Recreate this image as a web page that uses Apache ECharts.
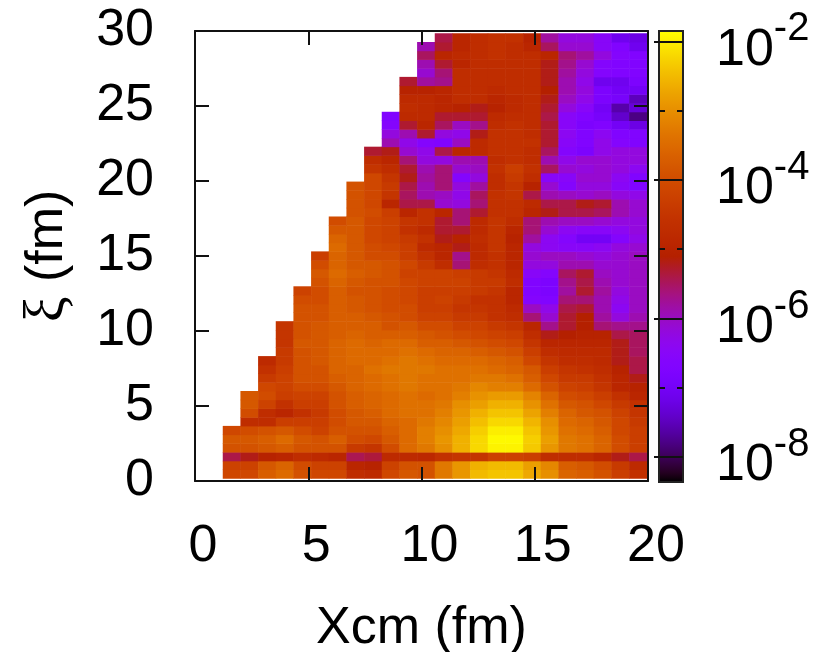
<!DOCTYPE html>
<html><head><meta charset="utf-8">
<style>html,body{margin:0;padding:0;background:#fff}#c{width:825px;height:652px}</style>
<script src="https://cdn.jsdelivr.net/npm/echarts@6/dist/echarts.min.js"></script>
</head><body><div id="c"></div>
<script>
const _ = null;
const xTicks = [0, 5, 10, 15, 20];
const yTicks = [0, 5, 10, 15, 20, 25, 30];
const barMajor = [-2, -4, -6, -8];
const barMinor = [-3, -5, -7];
const logMin = -8.36, logMax = -1.85;
// log10 of the density, one row per xi bin from bottom to top, 24 Xcm bins
const row00=[-4.1,-4.1,-3.7,-3.5,-3.9,-4.1,-4.1,-4.7,-4.8,-4.1,-3.8,-3.9,-3.3,-2.9,-2.5,-2.4,-2.4,-2.7,-3.0,-3.6,-3.7,-3.9,-4.3,-4.6];
const row01=[-4.2,-4.2,-3.8,-3.6,-4.0,-4.2,-4.2,-4.9,-5.0,-4.2,-3.9,-3.9,-3.3,-2.9,-2.6,-2.5,-2.5,-2.8,-3.1,-3.7,-3.8,-4.0,-4.4,-4.8];
const row02=[-5.4,-5.2,-5.0,-4.9,-4.7,-4.8,-4.9,-5.45,-5.35,-4.8,-4.8,-4.85,-4.6,-4.5,-4.5,-4.2,-4.2,-4.3,-4.7,-4.7,-4.7,-4.9,-5.2,-5.4];
const row03=[-3.9,-3.9,-3.8,-3.7,-3.9,-3.9,-3.9,-4.4,-4.5,-4.0,-3.5,-3.3,-3.0,-2.6,-2.2,-1.95,-1.95,-2.35,-2.9,-3.3,-3.4,-3.6,-4.0,-4.3];
const row04=[-3.8,-3.8,-3.7,-3.5,-3.8,-3.9,-3.7,-4.0,-4.1,-3.8,-3.5,-3.2,-2.9,-2.6,-2.2,-1.9,-1.9,-2.3,-2.8,-3.3,-3.4,-3.6,-4.0,-4.3];
const row05=[-4.1,-4.0,-3.9,-3.8,-4.0,-4.2,-3.9,-3.9,-3.9,-3.7,-3.5,-3.2,-3.0,-2.7,-2.3,-2.0,-2.0,-2.4,-2.9,-3.4,-3.5,-3.7,-4.1,-4.3];
const row06=[_,-4.7,-4.7,-4.3,-4.3,-4.3,-4.0,-3.8,-3.8,-3.6,-3.5,-3.3,-3.1,-2.8,-2.45,-2.2,-2.2,-2.55,-3.0,-3.5,-3.6,-3.8,-4.1,-4.4];
const row07=[_,-4.0,-4.7,-4.9,-4.6,-4.4,-4.0,-3.8,-3.7,-3.5,-3.4,-3.4,-3.2,-2.9,-2.6,-2.4,-2.4,-2.75,-3.2,-3.6,-3.8,-3.9,-4.2,-4.5];
const row08=[_,-3.8,-4.2,-4.6,-4.3,-4.3,-3.9,-3.7,-3.6,-3.5,-3.4,-3.4,-3.3,-3.0,-2.8,-2.6,-2.6,-2.95,-3.4,-3.8,-3.9,-4.1,-4.4,-4.6];
const row09=[_,-3.8,-4.0,-4.3,-4.2,-4.2,-3.9,-3.7,-3.6,-3.5,-3.4,-3.5,-3.4,-3.2,-2.95,-2.85,-2.85,-3.15,-3.6,-4.0,-4.1,-4.3,-4.6,-4.9];
const row10=[_,_,-4.1,-4.2,-4.0,-4.0,-3.8,-3.6,-3.5,-3.4,-3.3,-3.4,-3.4,-3.3,-3.1,-3.2,-3.2,-3.5,-3.9,-4.2,-4.3,-4.5,-4.9,-5.0];
const row11=[_,_,-4.4,-4.2,-3.9,-3.9,-3.7,-3.6,-3.5,-3.4,-3.3,-3.4,-3.4,-3.4,-3.3,-3.3,-3.4,-3.7,-4.1,-4.4,-4.4,-4.6,-4.9,-5.2];
const row12=[_,_,-4.6,-4.3,-3.9,-3.9,-3.6,-3.6,-3.4,-3.3,-3.3,-3.3,-3.4,-3.4,-3.4,-3.5,-3.6,-3.8,-4.3,-4.5,-4.6,-4.7,-5.0,-5.4];
const row13=[_,_,-4.8,-4.4,-3.9,-3.8,-3.6,-3.5,-3.5,-3.4,-3.3,-3.4,-3.5,-3.5,-3.5,-3.6,-3.7,-4.1,-4.5,-4.7,-4.7,-4.8,-5.2,-5.4];
const row14=[_,_,_,-4.4,-3.9,-3.8,-3.6,-3.5,-3.5,-3.5,-3.4,-3.5,-3.6,-3.6,-3.7,-3.8,-3.9,-4.3,-4.7,-4.8,-4.8,-4.8,-5.2,-5.5];
const row15=[_,_,_,-4.5,-3.8,-3.8,-3.6,-3.5,-3.6,-3.5,-3.5,-3.7,-3.7,-3.8,-3.9,-4.0,-4.1,-4.5,-4.9,-4.9,-4.9,-4.9,-5.2,-5.5];
const row16=[_,_,_,-4.5,-3.9,-3.8,-3.7,-3.6,-3.7,-3.7,-3.7,-3.8,-3.9,-4.0,-4.1,-4.2,-4.3,-4.7,-5.2,-5.1,-5.0,-5.0,-5.4,-5.5];
const row17=[_,_,_,-4.5,-3.9,-3.8,-3.7,-3.7,-3.7,-3.9,-3.8,-4.0,-4.0,-4.2,-4.2,-4.4,-4.5,-4.9,-5.7,-5.3,-5.1,-5.6,-5.7,-5.7];
const row18=[_,_,_,_,-3.9,-3.9,-3.7,-3.7,-3.8,-3.9,-4.0,-4.2,-4.2,-4.4,-4.4,-4.6,-4.7,-5.6,-6.1,-5.3,-5.1,-5.8,-6.2,-5.9];
const row19=[_,_,_,_,-3.9,-3.9,-3.7,-3.8,-3.9,-4.0,-4.0,-4.3,-4.3,-4.5,-4.5,-4.6,-4.8,-6.0,-6.3,-5.4,-5.3,-5.9,-6.4,-6.0];
const row20=[_,_,_,_,-4.0,-4.0,-3.7,-3.8,-3.9,-4.0,-4.1,-4.3,-4.2,-4.4,-4.6,-4.6,-4.9,-6.6,-6.7,-5.6,-5.6,-5.9,-6.3,-6.0];
const row21=[_,_,_,_,-4.2,-4.0,-3.7,-3.9,-3.9,-4.0,-4.1,-4.3,-4.3,-4.3,-4.4,-4.5,-4.9,-6.7,-6.8,-5.8,-5.3,-5.8,-6.2,-6.0];
const row22=[_,_,_,_,_,-3.9,-3.6,-3.8,-3.9,-3.9,-4.1,-4.2,-4.2,-4.2,-4.4,-4.4,-4.7,-6.7,-6.8,-5.7,-5.4,-5.9,-6.1,-6.0];
const row23=[_,_,_,_,_,-3.8,-3.5,-3.7,-3.8,-3.9,-4.2,-4.2,-4.2,-4.3,-4.4,-4.5,-4.8,-6.5,-6.6,-5.5,-5.3,-6.0,-6.1,-6.0];
const row24=[_,_,_,_,_,-4.0,-3.6,-3.8,-3.8,-3.9,-4.1,-4.4,-4.7,-5.6,-4.7,-4.6,-4.9,-6.2,-6.2,-5.9,-5.9,-6.1,-6.1,-6.0];
const row25=[_,_,_,_,_,-4.3,-3.6,-3.8,-4.0,-4.0,-4.3,-4.6,-4.9,-5.7,-4.8,-4.6,-4.9,-6.1,-6.0,-6.0,-6.1,-6.2,-6.1,-6.0];
const row26=[_,_,_,_,_,_,-3.5,-3.8,-4.0,-4.1,-4.3,-4.8,-4.9,-5.2,-4.8,-4.5,-4.9,-6.2,-6.4,-6.5,-6.5,-6.4,-6.2,-6.1];
const row27=[_,_,_,_,_,_,-3.6,-3.8,-4.1,-4.2,-4.4,-4.6,-5.2,-5.0,-4.7,-4.5,-5.0,-5.8,-6.4,-6.6,-7.0,-7.0,-6.6,-6.3];
const row28=[_,_,_,_,_,_,-3.8,-3.8,-4.1,-4.2,-4.6,-4.8,-5.3,-5.3,-4.8,-4.5,-4.9,-5.6,-6.1,-6.4,-6.5,-6.5,-6.4,-6.2];
const row29=[_,_,_,_,_,_,-4.0,-3.8,-4.1,-4.2,-4.5,-4.6,-5.3,-5.6,-4.8,-4.5,-4.7,-5.6,-5.9,-6.0,-6.0,-6.1,-6.2,-6.2];
const row30=[_,_,_,_,_,_,_,-3.9,-4.0,-4.3,-4.9,-4.6,-4.9,-5.6,-5.3,-4.6,-4.6,-4.9,-5.2,-5.4,-5.4,-5.5,-5.9,-6.1];
const row31=[_,_,_,_,_,_,_,-3.9,-4.1,-4.9,-5.4,-5.4,-6.1,-6.2,-5.6,-4.6,-4.6,-4.8,-5.4,-5.4,-5.2,-5.3,-5.9,-6.1];
const row32=[_,_,_,_,_,_,_,-3.9,-4.1,-4.5,-5.5,-5.9,-6.0,-6.3,-5.5,-4.6,-4.5,-5.4,-5.9,-6.0,-6.1,-6.0,-6.2,-6.3];
const row33=[_,_,_,_,_,_,_,-3.9,-4.1,-4.4,-5.4,-5.9,-5.6,-6.2,-5.8,-4.7,-4.5,-5.0,-6.1,-6.6,-6.2,-6.2,-6.5,-6.7];
const row34=[_,_,_,_,_,_,_,_,-4.1,-4.5,-5.2,-5.8,-5.6,-6.6,-6.2,-4.7,-4.4,-4.7,-6.5,-6.5,-6.1,-6.1,-6.4,-6.7];
const row35=[_,_,_,_,_,_,_,_,-4.5,-4.7,-5.3,-5.9,-5.6,-6.1,-6.0,-4.6,-4.3,-4.6,-5.5,-6.1,-6.2,-6.1,-6.2,-6.4];
const row36=[_,_,_,_,_,_,_,_,-4.7,-4.9,-5.6,-6.2,-6.2,-5.9,-5.9,-4.7,-4.6,-4.7,-5.9,-6.3,-6.1,-6.1,-6.2,-6.2];
const row37=[_,_,_,_,_,_,_,_,-5.3,-5.2,-6.1,-6.3,-5.4,-4.9,-4.8,-4.6,-4.6,-4.7,-5.5,-6.6,-6.8,-6.3,-6.2,-6.2];
const row38=[_,_,_,_,_,_,_,_,_,-5.9,-6.3,-6.6,-6.7,-6.0,-4.8,-4.6,-4.6,-4.6,-5.3,-6.5,-6.7,-6.3,-6.6,-6.7];
const row39=[_,_,_,_,_,_,_,_,_,-6.2,-5.9,-5.3,-6.2,-6.3,-5.2,-4.6,-4.6,-4.7,-5.3,-6.4,-6.7,-6.4,-6.7,-6.7];
const row40=[_,_,_,_,_,_,_,_,_,-6.6,-5.3,-4.9,-5.5,-6.0,-5.7,-4.7,-4.6,-4.7,-5.3,-6.5,-6.8,-6.7,-7.0,-7.2];
const row41=[_,_,_,_,_,_,_,_,_,-6.7,-4.8,-4.8,-5.3,-5.3,-5.3,-4.8,-4.7,-4.7,-5.4,-6.5,-6.7,-6.9,-7.4,-7.8];
const row42=[_,_,_,_,_,_,_,_,_,_,-4.7,-4.8,-4.9,-5.0,-5.2,-5.0,-4.8,-4.7,-5.3,-6.2,-6.5,-7.0,-7.6,-7.3];
const row43=[_,_,_,_,_,_,_,_,_,_,-4.8,-4.8,-4.9,-4.7,-4.7,-4.9,-4.8,-4.7,-5.2,-6.0,-6.3,-6.8,-6.9,-7.5];
const row44=[_,_,_,_,_,_,_,_,_,_,-5.0,-5.0,-4.9,-4.7,-4.7,-4.8,-4.7,-4.7,-5.1,-5.9,-6.2,-6.8,-7.0,-7.0];
const row45=[_,_,_,_,_,_,_,_,_,_,-5.3,-5.8,-5.7,-4.7,-4.7,-4.7,-4.7,-4.7,-5.2,-5.9,-6.3,-7.1,-7.1,-6.8];
const row46=[_,_,_,_,_,_,_,_,_,_,_,-6.1,-5.6,-4.7,-4.7,-4.7,-4.7,-4.7,-5.2,-5.8,-6.2,-6.6,-6.7,-6.7];
const row47=[_,_,_,_,_,_,_,_,_,_,_,-5.9,-5.3,-4.9,-4.7,-4.7,-4.7,-4.7,-5.2,-5.7,-6.1,-6.6,-6.7,-6.7];
const row48=[_,_,_,_,_,_,_,_,_,_,_,-5.5,-4.9,-4.8,-4.7,-4.6,-4.7,-4.7,-4.9,-5.6,-5.8,-6.2,-6.6,-6.7];
const row49=[_,_,_,_,_,_,_,_,_,_,_,-5.9,-5.3,-4.9,-4.7,-4.6,-4.7,-4.9,-5.5,-6.1,-6.1,-6.5,-6.7,-7.1];
const row50=[_,_,_,_,_,_,_,_,_,_,_,_,-5.4,-4.9,-4.7,-4.6,-4.6,-5.0,-5.8,-6.2,-6.2,-6.5,-7.1,-7.2];

const rows=[row00,row01,row02,row03,row04,row05,row06,row07,row08,row09,row10,row11,row12,row13,row14,row15,row16,row17,row18,row19,row20,row21,row22,row23,row24,row25,row26,row27,row28,row29,row30,row31,row32,row33,row34,row35,row36,row37,row38,row39,row40,row41,row42,row43,row44,row45,row46,row47,row48,row49,row50];
const cells=[];
rows.forEach((r,j)=>r.forEach((v,i)=>{ if(v!==null) cells.push([i,j,v]); }));

// gnuplot default pm3d palette (rgbformulae 7,5,15)
const palette=[];
for(let k=0;k<=64;k++){
  const t=k/64, f=c=>Math.round(255*Math.min(1,Math.max(0,c)));
  palette.push(`rgb(${f(Math.sqrt(t))},${f(t*t*t)},${f(Math.sin(2*Math.PI*t))})`);
}

const FONT='Liberation Sans';
const lineS={color:'#111',width:2};
const chart=echarts.init(document.getElementById('c'),null,{renderer:'canvas'});
const valAxisBase={type:'value',z:6,splitLine:{show:false},axisLine:{show:true,onZero:false,lineStyle:lineS},
  axisTick:{show:true,inside:true,length:14,lineStyle:lineS}};
const noLabel={show:false};
chart.setOption({
  animation:false,
  backgroundColor:'#fff',
  textStyle:{fontFamily:FONT},
  grid:[
    {left:195,top:31,width:453,height:450,outerBoundsMode:'none'},
    {left:223,top:33.5,width:424,height:445,outerBoundsMode:'none'},
    {left:659,top:31,width:24,height:451,show:true,z:6,borderColor:'#222',borderWidth:2,backgroundColor:'transparent',outerBoundsMode:'none'}
  ],
  xAxis:[
    Object.assign({},valAxisBase,{gridIndex:0,min:0,max:20,interval:5,position:'bottom',
      axisLabel:{fontFamily:FONT,fontSize:52,color:'#000',margin:40,padding:[0,0,0,16],
        customValues:xTicks,formatter:v=>String(v)},
      name:'Xcm (fm)',nameLocation:'middle',nameGap:122,nameTextStyle:{fontFamily:FONT,fontSize:52,color:'#000'}}),
    Object.assign({},valAxisBase,{gridIndex:0,min:0,max:20,interval:5,position:'top',axisLabel:noLabel}),
    {type:'category',gridIndex:1,show:false,data:row00.map((_v,i)=>i)},
    {type:'value',gridIndex:2,show:false,min:0,max:1}
  ],
  yAxis:[
    Object.assign({},valAxisBase,{gridIndex:0,min:0,max:30,interval:5,position:'left',
      axisLabel:{fontFamily:FONT,fontSize:52,color:'#000',margin:41,customValues:yTicks,formatter:v=>String(v)},
      name:'{g|ξ} (fm)',nameLocation:'middle',nameGap:118,nameRotate:90,
      nameTextStyle:{fontFamily:FONT,fontSize:52,color:'#000',rich:{g:{fontFamily:'Liberation Serif',fontSize:58,color:'#000'}}}}),
    Object.assign({},valAxisBase,{gridIndex:0,min:0,max:30,interval:5,position:'right',axisLabel:noLabel}),
    {type:'category',gridIndex:1,show:false,data:rows.map((_r,j)=>j)},
    {type:'value',gridIndex:2,min:logMin,max:logMax,position:'right',z:7,axisLine:{show:false},
      splitLine:{show:true,lineStyle:{color:'#111',width:2}},
      axisTick:{show:true,inside:true,length:5,customValues:barMajor,lineStyle:{color:'#111',width:2}},
      axisLabel:{show:true,margin:33,customValues:barMajor,align:'left',formatter:v=>`{b|10}{s|${v}}`,
        rich:{b:{fontFamily:FONT,fontSize:52,color:'#000',padding:[18,0,0,0]},
              s:{fontFamily:FONT,fontSize:40,color:'#000',padding:[0,0,24,0]}}}},
    {type:'value',gridIndex:2,min:logMin,max:logMax,position:'left',z:7,splitLine:{show:false},axisLine:{show:false},
      axisTick:{show:true,inside:true,length:6,customValues:barMinor,lineStyle:{color:'#111',width:2}},axisLabel:noLabel},
    {type:'value',gridIndex:2,min:logMin,max:logMax,position:'right',z:7,splitLine:{show:false},axisLine:{show:false},
      axisTick:{show:true,inside:true,length:6,customValues:barMinor,lineStyle:{color:'#111',width:2}},axisLabel:noLabel}
  ],
  visualMap:{type:'continuous',min:logMin,max:logMax,seriesIndex:0,calculable:false,hoverLink:false,
    left:659,top:31,itemWidth:24,itemHeight:451,padding:0,text:null,z:4,inRange:{color:palette}},
  series:[{type:'heatmap',xAxisIndex:2,yAxisIndex:2,data:cells,progressive:0,emphasis:{disabled:true},itemStyle:{borderWidth:0}}]
});
</script></body></html>
